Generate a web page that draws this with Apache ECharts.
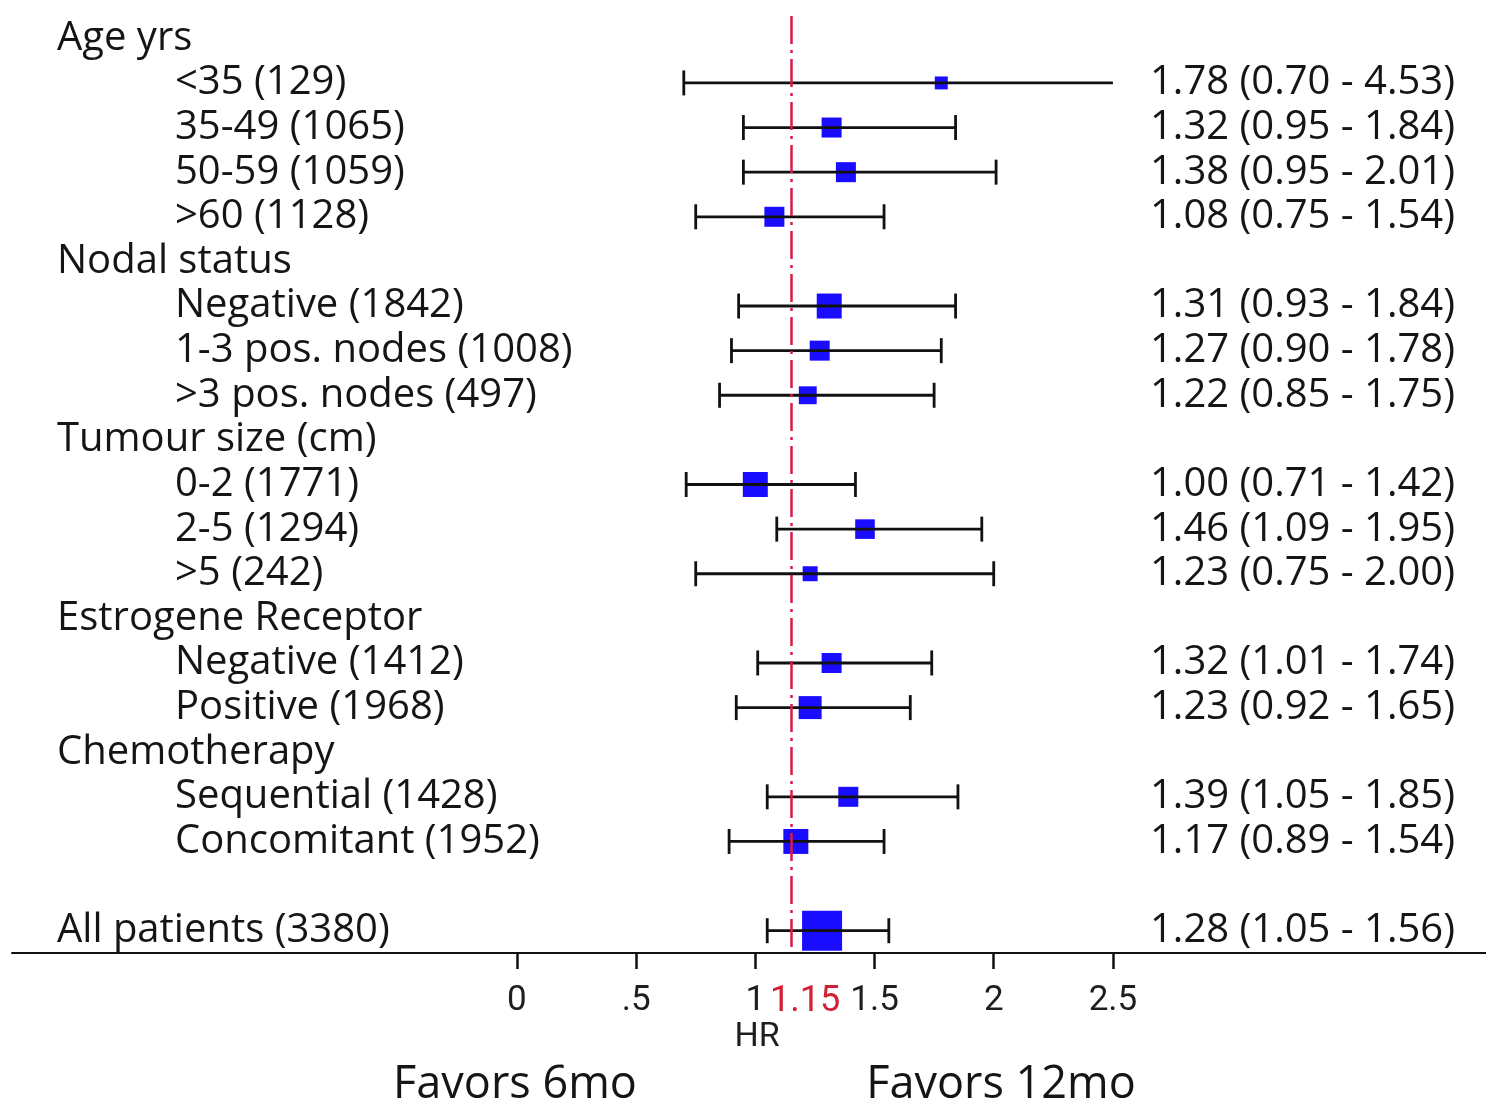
<!DOCTYPE html>
<html>
<head>
<meta charset="utf-8">
<title>Hazard ratio by subgroup</title>
<script src="https://cdn.jsdelivr.net/npm/echarts@6/dist/echarts.min.js"></script>
<style>
  html, body { margin: 0; padding: 0; background: #fff; }
  #chart { width: 1486px; height: 1104px; }
</style>
</head>
<body>
<div id="chart"></div>
<script>
// Subgroup rows, top to bottom (blank entry = spacer row)
const rowLabels = [
  'Age yrs', '<35 (129)', '35-49 (1065)', '50-59 (1059)', '>60 (1128)',
  'Nodal status', 'Negative (1842)', '1-3 pos. nodes (1008)', '>3 pos. nodes (497)',
  'Tumour size (cm)', '0-2 (1771)', '2-5 (1294)', '>5 (242)',
  'Estrogene Receptor', 'Negative (1412)', 'Positive (1968)',
  'Chemotherapy', 'Sequential (1428)', 'Concomitant (1952)',
  '', 'All patients (3380)'
];
const headerRows = [0, 5, 9, 13, 16, 20];

// Hazard ratios with 95% CI (null for heading / spacer rows)
const hr    = [null, 1.78, 1.32, 1.38, 1.08, null, 1.31, 1.27, 1.22, null, 1.00, 1.46, 1.23, null, 1.32, 1.23, null, 1.39, 1.17, null, 1.28];
const ciLow = [null, 0.70, 0.95, 0.95, 0.75, null, 0.93, 0.90, 0.85, null, 0.71, 1.09, 0.75, null, 1.01, 0.92, null, 1.05, 0.89, null, 1.05];
const ciHigh= [null, 4.53, 1.84, 2.01, 1.54, null, 1.84, 1.78, 1.75, null, 1.42, 1.95, 2.00, null, 1.74, 1.65, null, 1.85, 1.54, null, 1.56];
// Relative study weight (percent of the overall estimate), drawn as box area
const weight= [null, 10.5, 25, 25, 25, null, 39, 25, 20, null, 39, 24, 14, null, 25, 33, null, 25, 39, null, 100];

// Axis ticks and reference line
const hrTicks = [0, 0.5, 1, 1.5, 2, 2.5];
const hrTickText = ['0', '.5', '1', '1.5', '2', '2.5'];
const refHR = 1.15;
const hrShownMax = 2.5;

const textFont = "'Open Sans', Lato, sans-serif";
const tickFont = "Roboto, 'Open Sans', sans-serif";
const ink = '#151515';

const fmt = v => v.toFixed(2);
const ciText = rowLabels.map((_, i) =>
  hr[i] == null ? '' : `${fmt(hr[i])} (${fmt(ciLow[i])} - ${fmt(ciHigh[i])})`);

const whiskerData = [];
const boxData = [];
hr.forEach((v, i) => {
  if (v == null) return;
  const hi = Math.min(ciHigh[i], hrShownMax);
  whiskerData.push([ciLow[i], hi, i, ciHigh[i] > hrShownMax ? 1 : 0]);
  boxData.push([v, i, weight[i]]);
});

const chart = echarts.init(document.getElementById('chart'), null, { renderer: 'canvas' });

chart.setOption({
  animation: false,
  backgroundColor: '#fff',
  grid: { left: 12, right: 0, top: 16, bottom: 151, containLabel: false },
  xAxis: {
    type: 'value',
    min: -2.118,
    max: 4.065,
    splitLine: { show: false },
    axisLine: { show: true, lineStyle: { color: '#111', width: 2 } },
    axisTick: { show: true, customValues: hrTicks, length: 16, lineStyle: { color: '#111', width: 2.5 } },
    axisLabel: {
      show: true,
      customValues: hrTicks.concat([refHR]),
      margin: 31,
      fontFamily: tickFont,
      fontSize: 35,
      color: '#1e1e1e',
      formatter: v => {
        if (Math.abs(v - refHR) < 1e-9) return '{r|1.15}';
        const k = hrTicks.findIndex(t => Math.abs(t - v) < 1e-9);
        return k >= 0 ? hrTickText[k] : '';
      },
      rich: { r: { color: '#d42035', fontFamily: tickFont, fontSize: 36, padding: [0, 0, 4, 28] } }
    }
  },
  yAxis: [
    {
      type: 'category',
      data: rowLabels,
      inverse: true,
      position: 'left',
      axisLine: { show: false },
      axisTick: { show: false },
      splitLine: { show: false },
      axisLabel: {
        inside: true,
        margin: 45,
        interval: 0,
        formatter: (v, i) => headerRows.includes(i) ? `{h|${v}}` : `{s|${v}}`,
        rich: {
          h: { fontFamily: textFont, fontSize: 40, color: ink },
          s: { fontFamily: textFont, fontSize: 40, color: ink, padding: [0, 0, 0, 118] }
        }
      }
    },
    {
      type: 'category',
      data: ciText,
      inverse: true,
      position: 'right',
      axisLine: { show: false },
      axisTick: { show: false },
      splitLine: { show: false },
      axisLabel: {
        inside: true,
        margin: 31,
        interval: 0,
        fontFamily: textFont,
        fontSize: 40,
        color: ink
      }
    }
  ],
  series: [
    {
      // effect-size boxes, plus the dash-dot reference line at HR 1.15
      type: 'scatter',
      data: boxData,
      symbol: 'rect',
      symbolSize: v => 40 * Math.sqrt(v[2] / 100),
      itemStyle: { color: '#1a0dff', opacity: 1 },
      z: 3,
      silent: true,
      markLine: {
        silent: true,
        symbol: 'none',
        label: { show: false },
        lineStyle: { color: '#d81b4a', width: 2.5, type: [28, 6, 3, 6] },
        data: [{ xAxis: refHR }]
      }
    },
    {
      // confidence-interval whiskers
      type: 'custom',
      data: whiskerData,
      encode: { x: [0, 1], y: 2 },
      z: 4,
      silent: true,
      renderItem: (params, api) => {
        const row = api.value(2);
        const a = api.coord([api.value(0), row]);
        const b = api.coord([api.value(1), row]);
        const cap = 12.5;
        const st = { stroke: '#111', lineWidth: 2.8 };
        const children = [
          { type: 'line', shape: { x1: a[0], y1: a[1], x2: b[0], y2: b[1] }, style: st },
          { type: 'line', shape: { x1: a[0], y1: a[1] - cap, x2: a[0], y2: a[1] + cap }, style: st }
        ];
        if (!api.value(3)) {
          children.push({ type: 'line', shape: { x1: b[0], y1: b[1] - cap, x2: b[0], y2: b[1] + cap }, style: st });
        }
        return { type: 'group', children };
      }
    }
  ],
  graphic: [
    { type: 'text', x: 757, y: 1037, style: { text: 'HR', align: 'center', verticalAlign: 'middle', fontFamily: tickFont, fontSize: 34, fill: '#1e1e1e' } },
    { type: 'text', x: 515, y: 1085, style: { text: 'Favors 6mo', align: 'center', verticalAlign: 'middle', fontFamily: textFont, fontSize: 45, fill: ink } },
    { type: 'text', x: 1001, y: 1085, style: { text: 'Favors 12mo', align: 'center', verticalAlign: 'middle', fontFamily: textFont, fontSize: 45, fill: ink } }
  ]
});
</script>
</body>
</html>
